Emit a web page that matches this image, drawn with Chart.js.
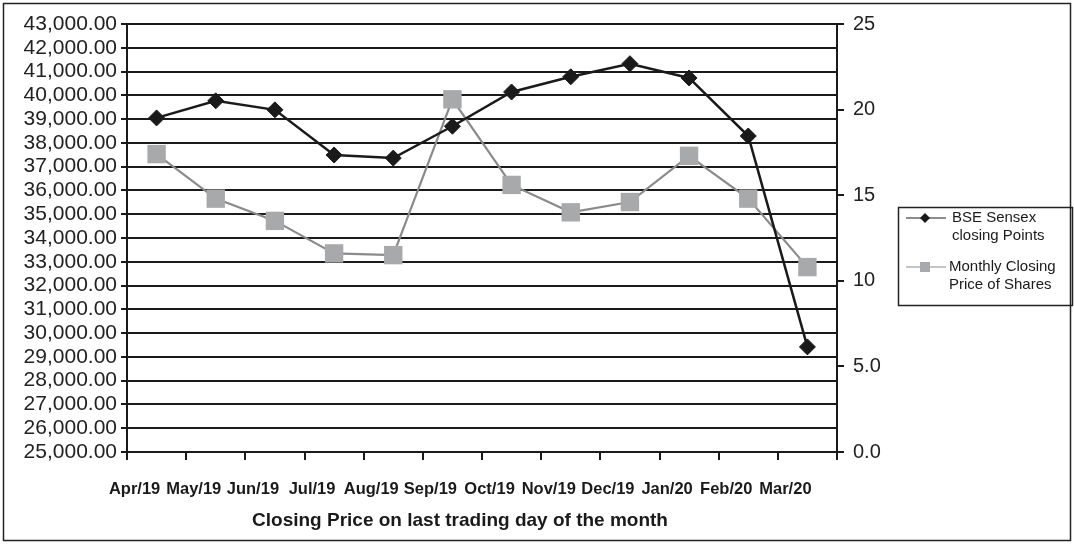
<!DOCTYPE html>
<html>
<head>
<meta charset="utf-8">
<script src="https://cdn.jsdelivr.net/npm/chart.js@4"></script>
<style>
html,body{margin:0;padding:0;background:#fff;}
#wrap{width:1074px;height:544px;position:relative;}
</style>
</head>
<body>
<div id="wrap"><canvas id="c" width="1074" height="544"></canvas></div>
<script>
const categories = ['Apr/19','May/19','Jun/19','Jul/19','Aug/19','Sep/19','Oct/19','Nov/19','Dec/19','Jan/20','Feb/20','Mar/20'];
const sensexPoints = [39050, 39770, 39390, 37490, 37360, 38700, 40140, 40780, 41330, 40730, 38290, 29420];
const sharePrices = [17.4, 14.8, 13.5, 11.6, 11.5, 20.6, 15.6, 14.0, 14.6, 17.3, 14.8, 10.8];
const seriesNames = [['BSE Sensex','closing Points'], ['Monthly Closing','Price of Shares']];
const xTitle = 'Closing Price on last trading day of the month';

const BASE = '"Liberation Sans", Arial, sans-serif';

const frameAndLegend = {
  id: 'frameAndLegend',
  afterDraw(chart) {
    const ctx = chart.ctx;
    ctx.save();
    // outer frame
    ctx.strokeStyle = '#222';
    ctx.lineWidth = 1.5;
    ctx.strokeRect(3.5, 3.5, 1067, 537);
    // x title
    ctx.fillStyle = '#1a1a1a';
    ctx.font = 'bold 19px ' + BASE;
    ctx.textAlign = 'center';
    ctx.textBaseline = 'middle';
    ctx.fillText(xTitle, 460, 521);
    // legend box
    ctx.strokeStyle = '#222';
    ctx.lineWidth = 1.5;
    ctx.strokeRect(898.5, 207.5, 174, 98);
    const ds = chart.data.datasets;
    const rows = [218, 267];
    ctx.font = '15px ' + BASE;
    ctx.textAlign = 'left';
    ds.forEach((d, i) => {
      const y = rows[i];
      ctx.strokeStyle = d.borderColor;
      ctx.lineWidth = 1.2;
      ctx.beginPath(); ctx.moveTo(906, y); ctx.lineTo(946, y); ctx.stroke();
      ctx.fillStyle = d.pointBackgroundColor;
      if (i === 0) {
        ctx.beginPath();
        ctx.moveTo(925, y - 5); ctx.lineTo(930, y); ctx.lineTo(925, y + 5); ctx.lineTo(920, y);
        ctx.closePath(); ctx.fill();
      } else {
        ctx.fillRect(920, y - 5, 10, 10);
      }
      ctx.fillStyle = '#1a1a1a';
      seriesNames[i].forEach((t, k) => ctx.fillText(t, i === 0 ? 952 : 949, y + k * 18));
    });
    ctx.restore();
  }
};

new Chart(document.getElementById('c'), {
  type: 'line',
  data: {
    labels: categories,
    datasets: [
      {
        label: seriesNames[0].join(' '),
        data: sensexPoints,
        yAxisID: 'yL',
        borderColor: '#1a1a1a',
        borderWidth: 2.5,
        pointStyle: 'rectRot',
        pointRadius: 8,
        pointBackgroundColor: '#1a1a1a',
        pointBorderColor: '#1a1a1a',
        pointBorderWidth: 1,
        tension: 0,
        order: 0
      },
      {
        label: seriesNames[1].join(' '),
        data: sharePrices,
        yAxisID: 'yR',
        borderColor: '#8a8a8a',
        borderWidth: 2.2,
        pointStyle: 'rect',
        pointRadius: 13,
        pointBackgroundColor: '#a8a9ab',
        pointBorderColor: '#a8a9ab',
        pointBorderWidth: 0,
        tension: 0,
        order: 1
      }
    ]
  },
  options: {
    responsive: false,
    animation: false,
    events: [],
    layout: { padding: { left: 0, right: 177, top: 24, bottom: 0 } },
    plugins: { legend: { display: false }, tooltip: { enabled: false }, title: { display: false } },
    scales: {
      x: {
        type: 'category',
        offset: true,
        afterFit: s => { s.height = 92; },
        grid: { display: true, drawOnChartArea: false, offset: true, tickLength: 8, color: '#1a1a1a', lineWidth: 2 },
        border: { display: true, color: '#1a1a1a', width: 2 },
        ticks: { color: '#1a1a1a', font: { family: BASE, size: 16.5, weight: 'bold' }, padding: 20, labelOffset: -22, maxRotation: 0, autoSkip: false }
      },
      yL: {
        position: 'left',
        min: 25000, max: 43000,
        afterFit: s => { s.width = 127; },
        grid: { color: '#1a1a1a', lineWidth: 2, tickLength: 6 },
        border: { display: true, color: '#1a1a1a', width: 2 },
        ticks: {
          stepSize: 1000, autoSkip: false, color: '#222', padding: 4,
          font: { family: BASE, size: 21 },
          callback: v => v.toLocaleString('en-US', { minimumFractionDigits: 2, maximumFractionDigits: 2 })
        }
      },
      yR: {
        position: 'right',
        min: 0, max: 25,
        afterFit: s => { s.width = 60; },
        grid: { drawOnChartArea: false, color: '#1a1a1a', lineWidth: 2, tickLength: 7 },
        border: { display: true, color: '#1a1a1a', width: 2 },
        ticks: {
          stepSize: 5, color: '#222', padding: 9,
          font: { family: BASE, size: 20 },
          callback: v => (v < 10 ? v.toFixed(1) : String(v))
        }
      }
    }
  },
  plugins: [frameAndLegend]
});
</script>
</body>
</html>
